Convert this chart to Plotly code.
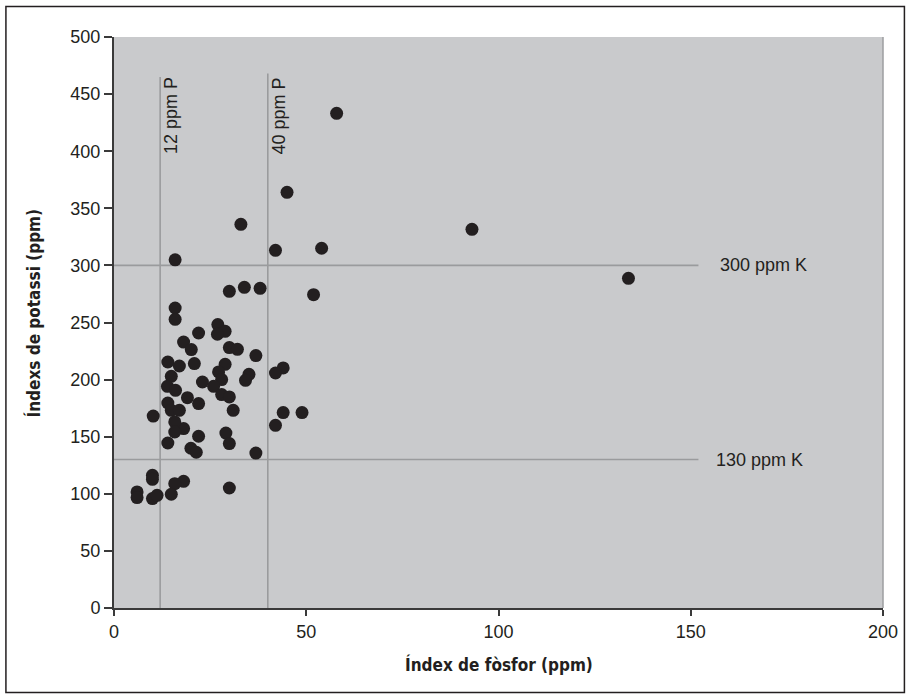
import plotly.graph_objects as go

# Phosphorus index (ppm) and potassium index (ppm) for each sample
phosphorus = [57.9, 45.0, 93.1, 133.8, 33.0, 54.0, 42.0, 15.9, 51.9, 30.0, 33.9, 38.0, 15.9, 15.9,
              27.0, 28.9, 26.9, 22.0, 18.1, 20.1, 30.0, 32.1, 36.9, 20.9, 28.9, 27.2, 28.0, 23.0,
              25.9, 28.0, 30.0, 35.1, 34.2, 44.0, 42.0, 31.0, 19.1, 22.0, 44.0, 48.9, 42.0, 18.1,
              22.0, 29.1, 30.0, 20.0, 21.4, 36.9, 18.1, 30.0,
              14.0, 17.0, 14.9, 13.9, 16.0, 14.0, 14.9, 17.0, 10.2, 15.8, 15.8, 14.0,
              10.0, 10.0, 15.8, 14.9, 6.0, 6.0, 10.0, 11.2]
potassium = [433.2, 364.0, 331.6, 288.7, 336.0, 315.0, 313.2, 304.9, 274.4, 277.3, 280.8, 279.9, 262.7, 252.8,
             248.2, 242.3, 239.7, 240.8, 232.9, 226.3, 228.0, 226.5, 221.0, 214.0, 213.4, 206.7, 200.0, 197.9,
             194.1, 186.9, 184.8, 204.6, 199.4, 210.2, 205.8, 173.1, 184.2, 179.0, 171.1, 171.1, 160.0, 157.1,
             150.4, 153.2, 144.0, 139.9, 136.4, 135.7, 110.9, 105.1,
             215.4, 211.9, 202.9, 194.1, 190.6, 179.5, 173.1, 173.1, 168.1, 162.9, 154.1, 144.5,
             116.2, 112.7, 108.9, 99.6, 101.6, 96.7, 95.8, 98.7]

# Threshold reference lines
p_thresholds = [12, 40]
p_labels = ["12 ppm P", "40 ppm P"]
p_line_top = [465, 468]
k_thresholds = [300, 130]
k_labels = ["300 ppm K", "130 ppm K"]
k_line_end = 152

x_ticks = [0, 50, 100, 150, 200]
y_ticks = [0, 50, 100, 150, 200, 250, 300, 350, 400, 450, 500]

FONT = "Liberation Sans, Arial, sans-serif"
NARROW = "Liberation Sans Narrow, DejaVu Sans Condensed, Arial, sans-serif"
TXT = "#231f20"
GRID = "#9a9b9d"

fig = go.Figure()

for xv, top in zip(p_thresholds, p_line_top):
    fig.add_trace(go.Scatter(x=[xv, xv], y=[0, top], mode="lines",
                             line=dict(color=GRID, width=1.6), hoverinfo="skip", showlegend=False))
for yv in k_thresholds:
    fig.add_trace(go.Scatter(x=[0, k_line_end], y=[yv, yv], mode="lines",
                             line=dict(color=GRID, width=1.6), hoverinfo="skip", showlegend=False))

fig.add_trace(go.Scatter(x=phosphorus, y=potassium, mode="markers",
                         marker=dict(size=13, color=TXT, line=dict(width=0)),
                         showlegend=False))

for xv, lab in zip(p_thresholds, p_labels):
    fig.add_annotation(x=xv, y=431, xref="x", yref="y", text=lab, textangle=-90,
                       showarrow=False, xanchor="center", yanchor="middle", xshift=11,
                       font=dict(family=FONT, size=18, color=TXT))
for yv, lab, xs in zip(k_thresholds, k_labels, [20, 16]):
    fig.add_annotation(x=k_line_end, y=yv, xref="x", yref="y", text=lab,
                       showarrow=False, xanchor="left", yanchor="middle", xshift=xs,
                       font=dict(family=FONT, size=18, color=TXT))

fig.add_annotation(xref="paper", yref="paper", x=0.5, y=0, yshift=-56, text="<b>Índex de fòsfor (ppm)</b>",
                   showarrow=False, xanchor="center", yanchor="middle",
                   font=dict(family=NARROW, size=17, color=TXT))
fig.add_annotation(xref="paper", yref="paper", x=0, y=0.5, xshift=-81, yshift=9,
                   text="<b>Índexs de potassi (ppm)</b>",
                   textangle=-90, showarrow=False, xanchor="center", yanchor="middle",
                   font=dict(family=NARROW, size=17, color=TXT))

fig.add_shape(type="line", xref="paper", yref="paper", x0=1, x1=1, y0=0, y1=1,
              line=dict(color="#9d9ea0", width=1.5))
fig.add_shape(type="rect", xref="paper", yref="paper",
              x0=(5.5 - 114) / 772, x1=(907.5 - 114) / 772,
              y0=-(692.5 - 608) / 571, y1=1 + (37 - 6.5) / 571,
              line=dict(color="#231f20", width=1.5), fillcolor="rgba(0,0,0,0)", layer="below")

fig.update_layout(
    width=910, height=698,
    margin=dict(l=114, r=24, t=37, b=90),
    paper_bgcolor="white", plot_bgcolor="#c9cacc",
    font=dict(family=FONT, size=18, color=TXT),
    hovermode=False,
    xaxis=dict(range=[0, 200], tickvals=x_ticks, showgrid=False, zeroline=False,
               showline=True, linecolor="#3a3a3a", linewidth=2,
               ticks="outside", ticklen=6, tickwidth=1.5, tickcolor="#3a3a3a",
               tickfont=dict(family=FONT, size=18, color=TXT)),
    yaxis=dict(range=[0, 500], tickvals=y_ticks, showgrid=False, zeroline=False,
               showline=True, linecolor="#3a3a3a", linewidth=2,
               ticks="outside", ticklen=8, tickwidth=1.5, tickcolor="#3a3a3a",
               tickfont=dict(family=FONT, size=18, color=TXT)),
)

fig.write_html("out.html", config={"displayModeBar": False},
               post_script="document.body.style.margin='0';document.body.style.overflow='hidden';")
